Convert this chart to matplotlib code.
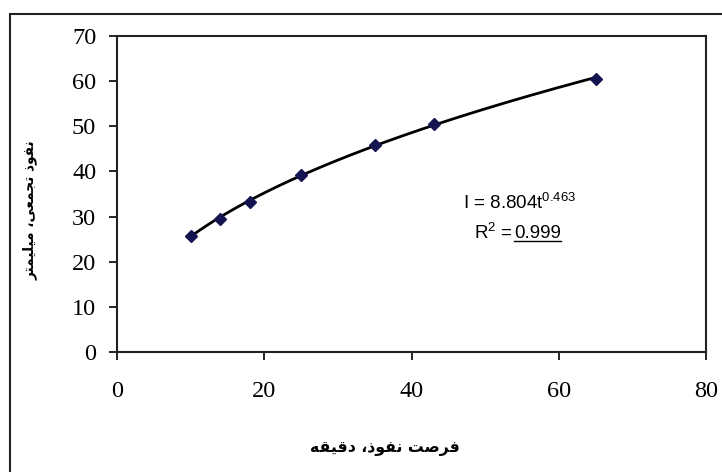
import numpy as np
import matplotlib
matplotlib.use("Agg")
import matplotlib.pyplot as plt
from matplotlib.patches import Rectangle
from matplotlib.lines import Line2D

# measured points
t_min = [10, 14, 18, 25, 35, 43, 65]
infil_mm = [25.6, 29.4, 33.3, 39.2, 45.8, 50.4, 60.5]

# trendline shown on the chart
coef_a = 8.804
coef_b = 0.463
r2_text = "0.999"

x_ticks = [0, 20, 40, 60, 80]
y_ticks = [0, 10, 20, 30, 40, 50, 60, 70]

xlabel_fa = "فرصت نفوذ، دقیقه"
ylabel_fa = "نفوذ تجمعی، میلیمتر"


# matplotlib has no arabic shaping, so pick the presentation forms by hand
FORMS = {
    'ف': (0xFED1, 0xFED2, 0xFED3, 0xFED4),
    'ر': (0xFEAD, 0xFEAE, None, None),
    'ص': (0xFEB9, 0xFEBA, 0xFEBB, 0xFEBC),
    'ت': (0xFE95, 0xFE96, 0xFE97, 0xFE98),
    'ن': (0xFEE5, 0xFEE6, 0xFEE7, 0xFEE8),
    'و': (0xFEED, 0xFEEE, None, None),
    'ذ': (0xFEAB, 0xFEAC, None, None),
    'د': (0xFEA9, 0xFEAA, None, None),
    'ق': (0xFED5, 0xFED6, 0xFED7, 0xFED8),
    'ی': (0xFBFC, 0xFBFD, 0xFBFE, 0xFBFF),
    'ه': (0xFEE9, 0xFEEA, 0xFEEB, 0xFEEC),
    'ج': (0xFE9D, 0xFE9E, 0xFE9F, 0xFEA0),
    'م': (0xFEE1, 0xFEE2, 0xFEE3, 0xFEE4),
    'ع': (0xFEC9, 0xFECA, 0xFECB, 0xFECC),
    'ل': (0xFEDD, 0xFEDE, 0xFEDF, 0xFEE0),
}


def shape(s):
    out = []
    for i, c in enumerate(s):
        if c not in FORMS:
            out.append(c)
            continue
        f = FORMS[c]
        prev = s[i - 1] if i > 0 else ''
        nxt = s[i + 1] if i + 1 < len(s) else ''
        pj = prev in FORMS and FORMS[prev][2] is not None
        nj = f[2] is not None and nxt in FORMS
        if pj and nj:
            out.append(chr(f[3]))
        elif pj:
            out.append(chr(f[1]))
        elif nj:
            out.append(chr(f[2]))
        else:
            out.append(chr(f[0]))
    return ''.join(out)[::-1]


plt.rcParams['mathtext.fontset'] = 'custom'
plt.rcParams['mathtext.rm'] = 'Liberation Sans'

fig = plt.figure(figsize=(7.22, 4.72), dpi=100)
ax = fig.add_axes([117 / 722, 1 - 352 / 472, 589 / 722, 316 / 472])

tt = np.linspace(min(t_min), max(t_min), 200)
ax.plot(tt, coef_a * tt ** coef_b, color='black', lw=2, zorder=2)
ax.plot(t_min, infil_mm, ls='none', marker='D', ms=6, color='#141450', zorder=3)

ax.set_xlim(0, 80)
ax.set_ylim(0, 70)
ax.set_xticks(x_ticks)
ax.set_yticks(y_ticks)
for lab in ax.get_xticklabels() + ax.get_yticklabels():
    lab.set_family('Liberation Serif')
    lab.set_fontsize(17.5)
ax.tick_params(axis='both', direction='out', length=6, width=1.2)
ax.tick_params(axis='x', pad=15)
ax.tick_params(axis='y', pad=9)
for sp in ax.spines.values():
    sp.set_linewidth(1.5)
    sp.set_color('#222222')

fig.text(385 / 722, 1 - 449 / 472, shape(xlabel_fa), ha='center', va='center',
         family='DejaVu Sans', fontsize=11.3, weight='bold')
fig.text(30 / 722, 1 - 210 / 472, shape(ylabel_fa), ha='center', va='center',
         rotation=90, family='DejaVu Sans', fontsize=9.8, weight='bold')

ax.text(463 / 722, 1 - 203 / 472, r"I = %.3ft$^{\mathregular{%.3f}}$" % (coef_a, coef_b),
        transform=fig.transFigure, ha='left', va='center',
        family='Liberation Sans', fontsize=13.5)
ax.text(514 / 722, 1 - 233 / 472, r"R$^{\mathregular{2}}$ = ",
        transform=fig.transFigure, ha='right', va='center',
        family='Liberation Sans', fontsize=13.5)
rt = ax.text(514 / 722, 1 - 233 / 472, r2_text, transform=fig.transFigure,
             ha='left', va='center', family='Liberation Sans', fontsize=13.5)

fig.canvas.draw()
bb = rt.get_window_extent(fig.canvas.get_renderer())
uy = (bb.y0 + 1) / fig.bbox.height
fig.add_artist(Line2D([bb.x0 / fig.bbox.width, bb.x1 / fig.bbox.width], [uy, uy],
                      transform=fig.transFigure, color='black', lw=1))

fig.add_artist(Rectangle((10 / 722, -0.05), 1.1, 1 - 14 / 472 + 0.05,
                         transform=fig.transFigure, fill=False,
                         lw=1.5, edgecolor='#222222', clip_on=False))

fig.savefig('out.png', dpi=100)
